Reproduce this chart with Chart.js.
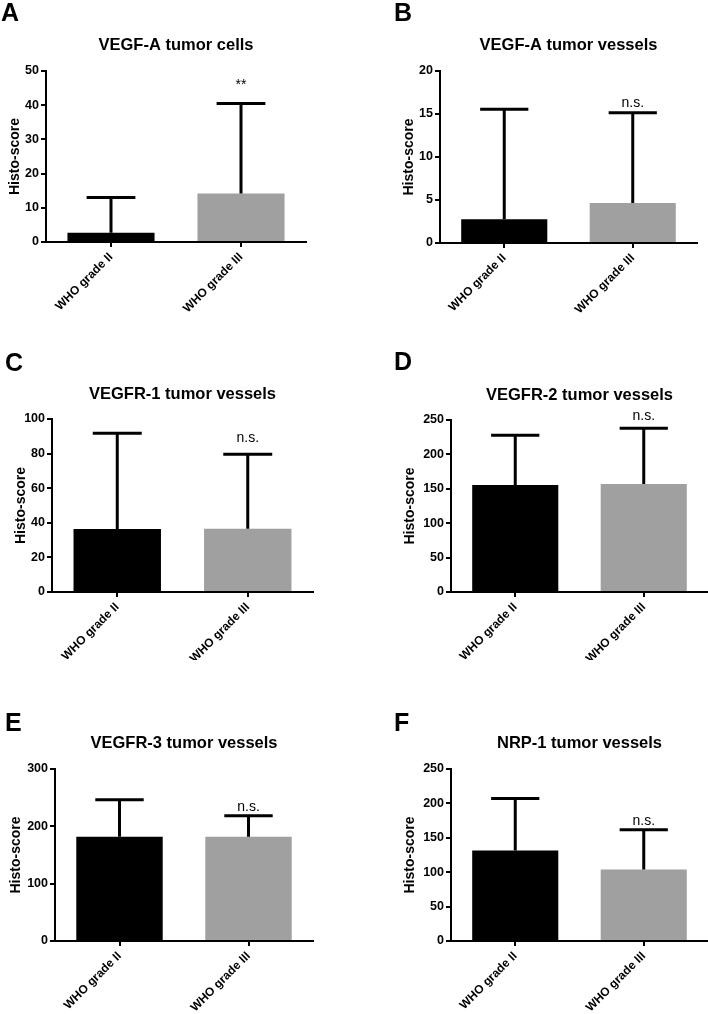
<!DOCTYPE html>
<html>
<head>
<meta charset="utf-8">
<script src="https://cdn.jsdelivr.net/npm/chart.js@4.4.1/dist/chart.umd.min.js"></script>
<style>
  html, body { margin: 0; padding: 0; background: #fff; }
  #fig { position: relative; width: 708px; height: 1014px; overflow: hidden; background: #fff; }
  #fig canvas { position: absolute; background: #fff; }
</style>
</head>
<body>
<div id="fig"></div>
<script>
  // categories
  const groups = ["WHO grade II", "WHO grade III"];
  const barColors = ["#000000", "#a0a0a0"];

  // mean histo-score and SD per panel
  const vegfaCellsMean = [2.7, 14.2];
  const vegfaCellsSd = [10.3, 26.3];
  const vegfaVesselsMean = [2.76, 4.65];
  const vegfaVesselsSd = [12.8, 10.5];
  const vegfr1Mean = [36.4, 36.6];
  const vegfr1Sd = [55.3, 43.0];
  const vegfr2Mean = [155.4, 156.8];
  const vegfr2Sd = [72.6, 81.1];
  const vegfr3Mean = [181.7, 181.7];
  const vegfr3Sd = [64.7, 36.7];
  const nrp1Mean = [131.4, 103.8];
  const nrp1Sd = [75.9, 57.8];

  // y axis ranges
  const yMaxes = [50, 20, 100, 250, 300, 250];
  const ySteps = [10, 5, 20, 50, 100, 50];

  const panelTitles = [
    "VEGF-A tumor cells",
    "VEGF-A tumor vessels",
    "VEGFR-1 tumor vessels",
    "VEGFR-2 tumor vessels",
    "VEGFR-3 tumor vessels",
    "NRP-1 tumor vessels",
  ];
  const panelLetters = ["A", "B", "C", "D", "E", "F"];
  const sigLabels = ["**", "n.s.", "n.s.", "n.s.", "n.s.", "n.s."];
  const means = [vegfaCellsMean, vegfaVesselsMean, vegfr1Mean, vegfr2Mean, vegfr3Mean, nrp1Mean];
  const sds = [vegfaCellsSd, vegfaVesselsSd, vegfr1Sd, vegfr2Sd, vegfr3Sd, nrp1Sd];

  // layout of each panel on the page (canvas box + plot area inside it)
  const layouts = [
    { x: 0,   y: 0,   w: 354, h: 320, l: 46, t: 71,  r: 306, b: 242, boxL: 0,  titleY: 45, letter: [1, 21],  gap: 18 },
    { x: 354, y: 0,   w: 354, h: 320, l: 86, t: 71,  r: 343, b: 243, boxL: 40, titleY: 45, letter: [40, 21], gap: 10 },
    { x: 0,   y: 320, w: 354, h: 342, l: 52, t: 99,  r: 313, b: 272, boxL: 6,  titleY: 74, letter: [5, 51],  gap: 16 },
    { x: 354, y: 320, w: 354, h: 342, l: 97, t: 100, r: 354, b: 272, boxL: 41, titleY: 75, letter: [40, 50], gap: 12 },
    { x: 0,   y: 660, w: 354, h: 354, l: 55, t: 109, r: 313, b: 281, boxL: 1,  titleY: 83, letter: [5, 71],  gap: 9 },
    { x: 354, y: 660, w: 354, h: 354, l: 97, t: 109, r: 354, b: 281, boxL: 41, titleY: 83, letter: [40, 71], gap: 9 },
  ];

  const FONT = "'Liberation Sans', Arial, Helvetica, sans-serif";
  const TITLE_SIZE = 16.5;
  Chart.defaults.font.family = FONT;
  Chart.defaults.color = "#000";

  /** Upward-only SD whiskers, significance mark above the second bar, and the panel letter. */
  const panelDecor = {
    id: "panelDecor",
    afterDatasetsDraw(chart, args, opts) {
      const ctx = chart.ctx;
      const yScale = chart.scales.y;
      const meta = chart.getDatasetMeta(0);
      const vals = chart.data.datasets[0].data;
      ctx.save();
      ctx.strokeStyle = "#000";
      ctx.lineWidth = 3;
      let lastTop = 0;
      meta.data.forEach((bar, i) => {
        const base = yScale.getPixelForValue(vals[i]);
        const top = yScale.getPixelForValue(vals[i] + opts.sd[i]);
        const half = bar.width * 0.28;
        ctx.beginPath();
        ctx.moveTo(bar.x, base);
        ctx.lineTo(bar.x, top);
        ctx.moveTo(bar.x - half, top);
        ctx.lineTo(bar.x + half, top);
        ctx.stroke();
        lastTop = top;
      });
      const last = meta.data[meta.data.length - 1];
      ctx.fillStyle = "#000";
      ctx.font = "14px " + FONT;
      ctx.textAlign = "center";
      ctx.textBaseline = "middle";
      ctx.fillText(opts.sig, last.x, lastTop - opts.gap);
      ctx.restore();
    },
    afterDraw(chart, args, opts) {
      const ctx = chart.ctx;
      ctx.save();
      ctx.fillStyle = "#000";
      ctx.font = "bold 25px " + FONT;
      ctx.textAlign = "left";
      ctx.textBaseline = "alphabetic";
      ctx.fillText(opts.letter, opts.letterPos[0], opts.letterPos[1]);
      ctx.restore();
    },
  };

  const fig = document.getElementById("fig");

  layouts.forEach((L, p) => {
    const canvas = document.createElement("canvas");
    canvas.width = L.w;
    canvas.height = L.h;
    canvas.style.left = L.x + "px";
    canvas.style.top = L.y + "px";
    canvas.style.width = L.w + "px";
    canvas.style.height = L.h + "px";
    fig.appendChild(canvas);

    const titleLine = TITLE_SIZE * 1.2;
    new Chart(canvas, {
      type: "bar",
      data: {
        labels: groups,
        datasets: [
          {
            data: means[p],
            backgroundColor: barColors,
            borderWidth: 0,
            categoryPercentage: 1,
            barPercentage: 0.67,
          },
        ],
      },
      options: {
        responsive: false,
        animation: false,
        devicePixelRatio: 1,
        layout: { padding: { left: L.boxL, right: L.w - L.r, top: 0, bottom: 0 } },
        plugins: {
          legend: { display: false },
          tooltip: { enabled: false },
          title: {
            display: true,
            text: panelTitles[p],
            fullSize: false,
            color: "#000",
            font: { size: TITLE_SIZE, weight: "bold", lineHeight: 1.2 },
            padding: { top: L.titleY - titleLine / 2, bottom: L.t - L.titleY - titleLine / 2 },
          },
          panelDecor: {
            sd: sds[p],
            sig: sigLabels[p],
            gap: L.gap,
            letter: panelLetters[p],
            letterPos: L.letter,
          },
        },
        scales: {
          x: {
            afterFit: (s) => { s.height = L.h - L.b; },
            grid: {
              offset: false,
              drawOnChartArea: false,
              drawTicks: true,
              tickLength: 5,
              color: "#000",
              lineWidth: 2,
            },
            border: { display: true, color: "#000", width: 2 },
            ticks: {
              color: "#000",
              font: { size: 12, weight: "bold" },
              maxRotation: 45,
              minRotation: 45,
              padding: 3,
              autoSkip: false,
            },
          },
          y: {
            min: 0,
            max: yMaxes[p],
            afterFit: (s) => { s.width = L.l - L.boxL; },
            grid: {
              drawOnChartArea: false,
              drawTicks: true,
              tickLength: 5,
              color: "#000",
              lineWidth: 2,
            },
            border: { display: true, color: "#000", width: 2 },
            ticks: {
              stepSize: ySteps[p],
              color: "#000",
              font: { size: 12.5, weight: "bold" },
              padding: 2,
            },
            title: {
              display: true,
              text: "Histo-score",
              color: "#000",
              font: { size: 14, weight: "bold", lineHeight: 1.2 },
              padding: { top: 7, bottom: 0 },
            },
          },
        },
      },
      plugins: [panelDecor],
    });
  });
</script>
</body>
</html>
